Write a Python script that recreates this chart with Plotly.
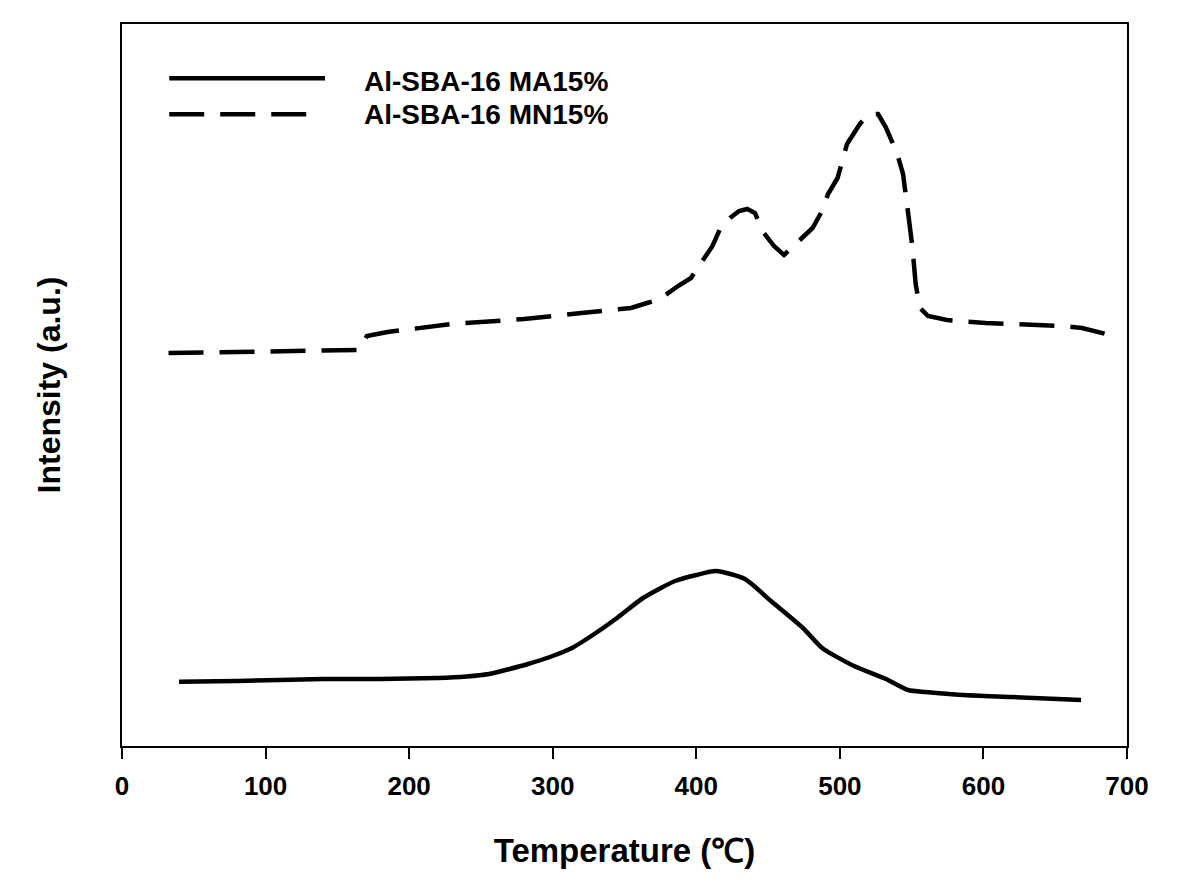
import plotly.graph_objects as go

# Al-SBA-16 MA15% (solid)
temp_ma = [39.7, 80, 140, 180, 220, 240, 255.6, 270, 282.8, 298, 313.4, 330, 344.8,
           362.9, 385.2, 400, 413.7, 433.9, 452, 474.3, 487.6, 509.9, 532.1, 547.5,
           560, 585.8, 620, 668]
int_ma = [64.3, 65, 67, 67, 68, 69.5, 72, 77, 82, 89, 98, 113, 128,
          148, 165, 171, 175, 167, 145, 118, 98, 80, 67, 56,
          54, 51, 49, 46]

# Al-SBA-16 MN15% (dashed)
temp_mn = [32.4, 100, 160, 165, 170.6, 185, 230, 280, 320, 337.7, 354.5, 365.7, 374.7,
           387.3, 396.3, 403.3, 411.3, 416.5, 423.5, 429.8, 435.5, 440.9, 446.1, 454.1, 461.1,
           472.9, 481, 487.6, 491.8, 498.4, 505, 514.4, 521, 526.6, 531.9, 539.8, 544,
           548, 550.6, 552.8, 555.8, 561.4, 574.6, 601.5, 628.3, 655, 668.7, 691]
int_mn = [393, 394, 395, 396, 410, 414, 422, 427, 433, 435, 438, 443, 447,
          460, 468, 483, 500, 517, 528, 535, 537, 533, 515, 500, 491,
          507, 518, 535, 552, 568, 602, 623, 632, 632, 619, 593, 572,
          528, 498, 462, 438, 430, 426, 423, 422, 420, 418, 410]

labels = ["Al-SBA-16 MA15%", "Al-SBA-16 MN15%"]
x_ticks = [0, 100, 200, 300, 400, 500, 600, 700]

FONT = "Arial, Liberation Sans, sans-serif"
DASH = "35px,16px"

fig = go.Figure()
fig.add_trace(go.Scatter(x=temp_ma, y=int_ma, mode="lines", name=labels[0],
                         line=dict(color="black", width=4.5, shape="spline", smoothing=0.6)))
fig.add_trace(go.Scatter(x=temp_mn, y=int_mn, mode="lines", name=labels[1],
                         line=dict(color="black", width=4.5, dash=DASH)))

# legend drawn by hand so the line samples are long like the original
fig.add_shape(type="line", xref="paper", yref="paper", x0=0.047, x1=0.202, y0=0.925, y1=0.925,
              line=dict(color="black", width=4.5))
fig.add_shape(type="line", xref="paper", yref="paper", x0=0.047, x1=0.190, y0=0.875, y1=0.875,
              line=dict(color="black", width=4.5, dash=DASH))
for yy, txt in zip([0.921, 0.875], labels):
    fig.add_annotation(x=0.239, y=yy, xref="paper", yref="paper", text=txt, showarrow=False,
                       xanchor="left", yanchor="middle",
                       font=dict(family=FONT, size=28, color="black", weight="bold"))

fig.update_layout(
    width=1200, height=895,
    margin=dict(l=114, r=81, t=16, b=157),
    plot_bgcolor="white", paper_bgcolor="white",
    showlegend=False,
    font=dict(family=FONT, color="black"),
)
fig.update_xaxes(
    range=[0, 700], tickvals=x_ticks, ticks="outside", ticklen=11, tickwidth=2,
    tickcolor="black", showline=True, linecolor="black", linewidth=2, mirror=True,
    showgrid=False, zeroline=False, ticklabelstandoff=5,
    tickfont=dict(family=FONT, size=26, color="black", weight="bold"),
    title=dict(text="Temperature (℃)", standoff=39,
               font=dict(family=FONT, size=33, color="black", weight="bold")),
)
fig.update_yaxes(
    range=[0, 722], showticklabels=False, ticks="", showline=True, linecolor="black",
    linewidth=2, mirror=True, showgrid=False, zeroline=False,
    title=dict(text="Intensity (a.u.)", standoff=50,
               font=dict(family=FONT, size=32, color="black", weight="bold")),
)

fig.write_html("out.html")
